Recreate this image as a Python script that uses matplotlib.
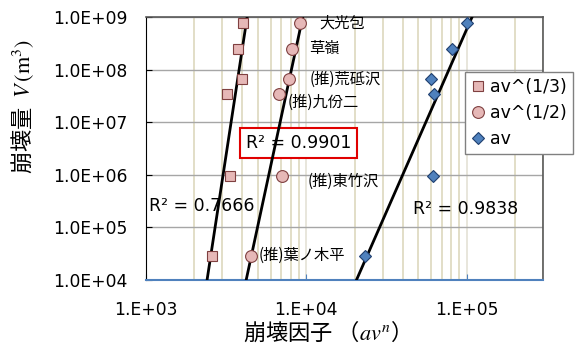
import numpy as np
import matplotlib
matplotlib.use('Agg')
import matplotlib.pyplot as plt
from matplotlib.ticker import LogLocator, FuncFormatter, NullFormatter

plt.rcParams['font.family'] = ['DejaVu Sans', 'Noto Sans CJK JP']
plt.rcParams['mathtext.fontset'] = 'stix'

# volume V (m3), same for all three series
volume = [7.7e8, 2.5e8, 6.6e7, 3.5e7, 9.6e5, 2.9e4]
# collapse factor a*v^n for each n
av_cube = [4040, 3760, 3980, 3200, 3350, 2580]
av_sqrt = [9200, 8180, 7830, 6780, 7070, 4530]
av_lin = [1.0e5, 8.06e4, 6.04e4, 6.3e4, 6.2e4, 2.34e4]
site_names = ['大光包', '草嶺', '(推)荒砥沢', '(推)九份二', '(推)東竹沢', '(推)葉ノ木平']
# power trendlines V = A * x^b  (log10 A, b)
trend_cube = (-63.62, 20.0)
trend_sqrt = (-47.33, 14.16)
trend_lin = (-25.89, 6.93)
r2_labels = ['R² = 0.7666', 'R² = 0.9901', 'R² = 0.9838']

fig = plt.figure(figsize=(5.77, 3.49), dpi=100)
ax = fig.add_axes([146/577, 1-280/349, 397/577, 263/349])
ax.set_xscale('log')
ax.set_yscale('log')
ax.set_xlim(1e3, 3e5)
ax.set_ylim(1e4, 1e9)
ax.set_axisbelow(True)

ax.xaxis.set_major_locator(LogLocator(base=10, numticks=10))
ax.xaxis.set_minor_locator(LogLocator(base=10, subs=np.arange(2, 10), numticks=20))
ax.xaxis.set_minor_formatter(NullFormatter())
ax.xaxis.set_major_formatter(FuncFormatter(lambda v, p: '1.E+%02d' % round(np.log10(v))))
ax.yaxis.set_major_locator(LogLocator(base=10, numticks=10))
ax.yaxis.set_minor_locator(LogLocator(base=10, subs=[], numticks=10))
ax.yaxis.set_major_formatter(FuncFormatter(lambda v, p: '1.0E+%02d' % round(np.log10(v))))

ax.grid(which='minor', axis='x', color='#ddd8bd', lw=1.2)
ax.grid(which='major', axis='x', color='#e4e2d6', lw=1.2)
ax.grid(which='major', axis='y', color='#a6a6a6', lw=1.0)
ax.tick_params(axis='both', which='major', direction='in', length=4, labelsize=12.3)
ax.tick_params(axis='y', pad=13.5)
ax.tick_params(axis='x', pad=15, colors='#4f81bd', labelcolor='black')
ax.tick_params(which='minor', length=0)
for s in ['top', 'right']:
    ax.spines[s].set_color('#595959')
    ax.spines[s].set_linewidth(1.2)
ax.spines['left'].set_color('black')
ax.spines['bottom'].set_color('#4f81bd')
ax.spines['bottom'].set_linewidth(1.5)

ax.plot(av_cube, volume, 's', ms=6.5, mfc='#e6b8b7', mec='#7f4040', mew=0.8,
        label='av^(1/3)', zorder=4)
ax.plot(av_sqrt, volume, 'o', ms=8.5, mfc='#e6b8b7', mec='#7f4040', mew=0.8,
        label='av^(1/2)', zorder=4)
ax.plot(av_lin, volume, 'D', ms=6, mfc='#4f81bd', mec='#1f3f6f', mew=0.8,
        label='av', zorder=4)

ly = np.array([3.9, 9.1])
for loga, b in [trend_cube, trend_sqrt, trend_lin]:
    lx = (ly - loga) / b
    ax.plot(10**lx, 10**ly, color='black', lw=2.0, zorder=3)

offsets = [(19, 0), (17, 0), (20, 0), (8, -9), (25, -6), (7, 0)]
for name, x, y, off in zip(site_names, av_sqrt, volume, offsets):
    ax.annotate(name, (x, y), xytext=off, textcoords='offset pixels',
                ha='left', va='center', fontsize=11,
                family=['Noto Sans CJK JP', 'DejaVu Sans'], zorder=5)

ax.text(0.008, 0.281, r2_labels[0], transform=ax.transAxes, fontsize=12.5,
        va='center', ha='left', zorder=2.5)
ax.text(0.252, 0.521, r2_labels[1], transform=ax.transAxes, fontsize=12.5,
        va='center', ha='left', zorder=2.5,
        bbox=dict(boxstyle='square,pad=0.35', fc='white', ec='#e00000', lw=1.5))
ax.text(0.673, 0.27, r2_labels[2], transform=ax.transAxes, fontsize=12.5,
        va='center', ha='left', zorder=2.5)

leg = ax.legend(loc='upper left', bbox_to_anchor=(465/577, 1-72/349),
                bbox_transform=fig.transFigure, fontsize=12.5, frameon=True,
                fancybox=False, edgecolor='#808080', framealpha=1,
                handlelength=0.8, handletextpad=0.3, labelspacing=0.45,
                borderpad=0.35, borderaxespad=0)
leg.get_frame().set_linewidth(1.0)
leg.set_zorder(6)

fig.text(23/577, 1-106/349, '崩壊量  $V\\,(\\mathrm{m}^3)$', rotation=90,
         ha='center', va='center', fontsize=16,
         family=['Noto Sans CJK JP', 'DejaVu Sans'])
fig.text(321/577, 1-332/349, '崩壊因子 （$av^n$）', ha='center', va='center',
         fontsize=16, family=['Noto Sans CJK JP', 'DejaVu Sans'])

fig.savefig('out.png', dpi=100)
